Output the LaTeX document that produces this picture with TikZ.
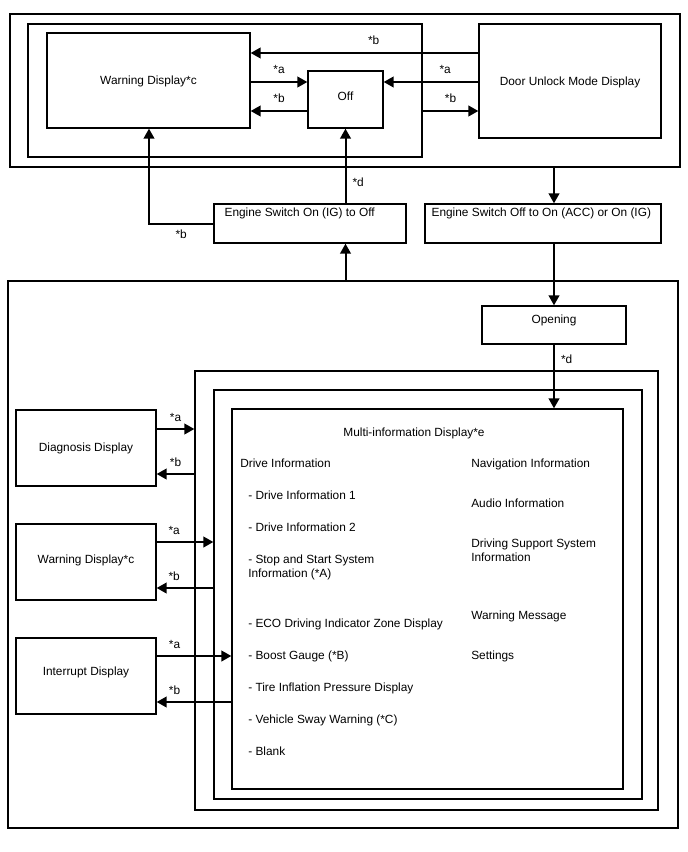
\documentclass[tikz,border=0pt]{standalone}
\usepackage{fontspec}
\setmainfont{Liberation Sans}
\usetikzlibrary{arrows.meta,positioning}
\newlength{\unitpx}\setlength{\unitpx}{0.75pt}

\begin{document}
\begin{tikzpicture}[x=0.75pt,y=-0.75pt,
                    every node/.style={font=\fontsize{8.9}{10.5}\selectfont},
                    box/.style={draw,line width=1pt,inner sep=0pt,text height=6.4pt,text depth=0pt},
                    arr/.style={line width=1.5pt,-{Triangle[length=7.5pt,width=8pt]}},
                    lbl/.style={inner sep=0pt,text height=6.4pt,text depth=0pt},
                    txt/.style={inner sep=0pt,anchor=west,text height=6.4pt,text depth=0pt},
                    txtb/.style={inner sep=0pt,anchor=north west,align=left},
                    corner/.style={anchor=west,inner sep=0pt,yshift=-6.75pt,text height=6.4pt,text depth=0pt}]
   \useasboundingbox (0,0) rectangle (688,852);
   % upper part
   \node[box,minimum width=670\unitpx,minimum height=153\unitpx] (topframe) at (345,90.5) {};
   \node[box,minimum width=394\unitpx,minimum height=133\unitpx] (offframe) at (225,90.5) {};
   \node[box,minimum width=203\unitpx,minimum height=95\unitpx] (warn) at (148.5,80.5) {Warning Display*c};
   \node[box,minimum width=75\unitpx,minimum height=57\unitpx,text depth=5.25pt] (off) at (345.5,99.5) {Off};
   \node[box,minimum width=182\unitpx,minimum height=114\unitpx] (door) at (570,81) {Door Unlock Mode Display};
   \node[box,minimum width=192\unitpx,minimum height=39\unitpx,
         label={[corner,xshift=8.25pt]north west:Engine Switch On (IG) to Off}] (ignoff) at (310,223.5) {};
   \node[box,minimum width=236\unitpx,minimum height=39\unitpx,
         label={[corner,xshift=5.25pt]north west:Engine Switch Off to On (ACC) or On (IG)}] (accon) at (543,223.5) {};
   % lower part
   \node[box,minimum width=670\unitpx,minimum height=547\unitpx] (botframe) at (343,554.5) {};
   \node[box,minimum width=144\unitpx,minimum height=38\unitpx,text depth=8.25pt] (opening) at (554,325) {Opening};
   \node[box,minimum width=463\unitpx,minimum height=439\unitpx] (outerfr) at (426.5,590.5) {};
   \node[box,minimum width=428\unitpx,minimum height=409\unitpx] (midfr) at (428,594.5) {};
   \node[box,minimum width=391\unitpx,minimum height=380\unitpx] (multi) at (427.5,599) {};
   \node[box,minimum width=140\unitpx,minimum height=76\unitpx,text depth=1.5pt] (diag) at (86,448) {Diagnosis Display};
   \node[box,minimum width=140\unitpx,minimum height=76\unitpx,text depth=4.5pt] (warnb) at (86,562) {Warning Display*c};
   \node[box,minimum width=140\unitpx,minimum height=76\unitpx,text depth=7.5pt] (intr) at (86,676) {Interrupt Display};
   % contents of the multi-information display
   \node[lbl] (mtitle) at (414,432) {Multi-information Display*e};
   \node[txt] (drvinfo) at (240,463) {Drive Information};
   \node[txt] (drv1) at (248,495) {- Drive Information 1};
   \node[txt] (drv2) at (248,527) {- Drive Information 2};
   \node[txtb] (stopstart) at (248,554.7) {- Stop and Start System\\Information (*A)};
   \node[txt] (eco) at (248,623) {- ECO Driving Indicator Zone Display};
   \node[txt] (boost) at (248,655) {- Boost Gauge (*B)};
   \node[txt] (tire) at (248,687) {- Tire Inflation Pressure Display};
   \node[txt] (sway) at (248,719) {- Vehicle Sway Warning (*C)};
   \node[txt] (blank) at (248,751) {- Blank};
   \node[txt] (navi) at (471,463) {Navigation Information};
   \node[txt] (audio) at (471,503) {Audio Information};
   \node[txtb] (dss) at (471,538.7) {Driving Support System\\Information};
   \node[txt] (warnmsg) at (471,615) {Warning Message};
   \node[txt] (settings) at (471,655) {Settings};
   % connectors
   \draw[arr] (door.west |- 0,53) -- node[lbl,above=5.25pt,pos=0.46] {*b} (warn.east |- 0,53);
   \draw[arr] (warn.east |- 0,82) -- node[lbl,above=5.25pt] {*a} (off.west |- 0,82);
   \draw[arr] (off.west |- 0,111) -- node[lbl,above=5.25pt] {*b} (warn.east |- 0,111);
   \draw[arr] (door.west |- 0,82) -- node[lbl,above=5.25pt,pos=0.35] {*a} (off.east |- 0,82);
   \draw[arr] (offframe.east |- 0,111) -- node[lbl,above=5.25pt] {*b} (door.west |- 0,111);
   \draw[arr] (ignoff.west |- 0,224) -| node[lbl,below=3.5pt,pos=0.25] {*b} (warn.south -| 149,0);
   \draw[arr] (off.south |- ignoff.north) -- node[lbl,right=4.5pt,pos=0.28] {*d} (off.south);
   \draw[arr] (off.south |- botframe.north) -- (off.south |- ignoff.south);
   \draw[arr] (opening.north |- topframe.south) -- (opening.north |- accon.north);
   \draw[arr] (opening.north |- accon.south) -- (opening.north);
   \draw[arr] (opening.south) -- node[lbl,right=4.5pt,pos=0.23] {*d} (opening.south |- multi.north);
   \draw[arr] (diag.east |- 0,429) -- node[lbl,above=5.25pt] {*a} (outerfr.west |- 0,429);
   \draw[arr] (outerfr.west |- 0,474) -- node[lbl,above=5.25pt] {*b} (diag.east |- 0,474);
   \draw[arr] (warnb.east |- 0,542) -- node[lbl,above=5.25pt,pos=0.31] {*a} (midfr.west |- 0,542);
   \draw[arr] (midfr.west |- 0,588) -- node[lbl,above=5.25pt,pos=0.69] {*b} (warnb.east |- 0,588);
   \draw[arr] (intr.east |- 0,656) -- node[lbl,above=5.25pt,pos=0.24] {*a} (multi.west |- 0,656);
   \draw[arr] (multi.west |- 0,702) -- node[lbl,above=5.25pt,pos=0.76] {*b} (intr.east |- 0,702);
\end{tikzpicture}
\end{document}
